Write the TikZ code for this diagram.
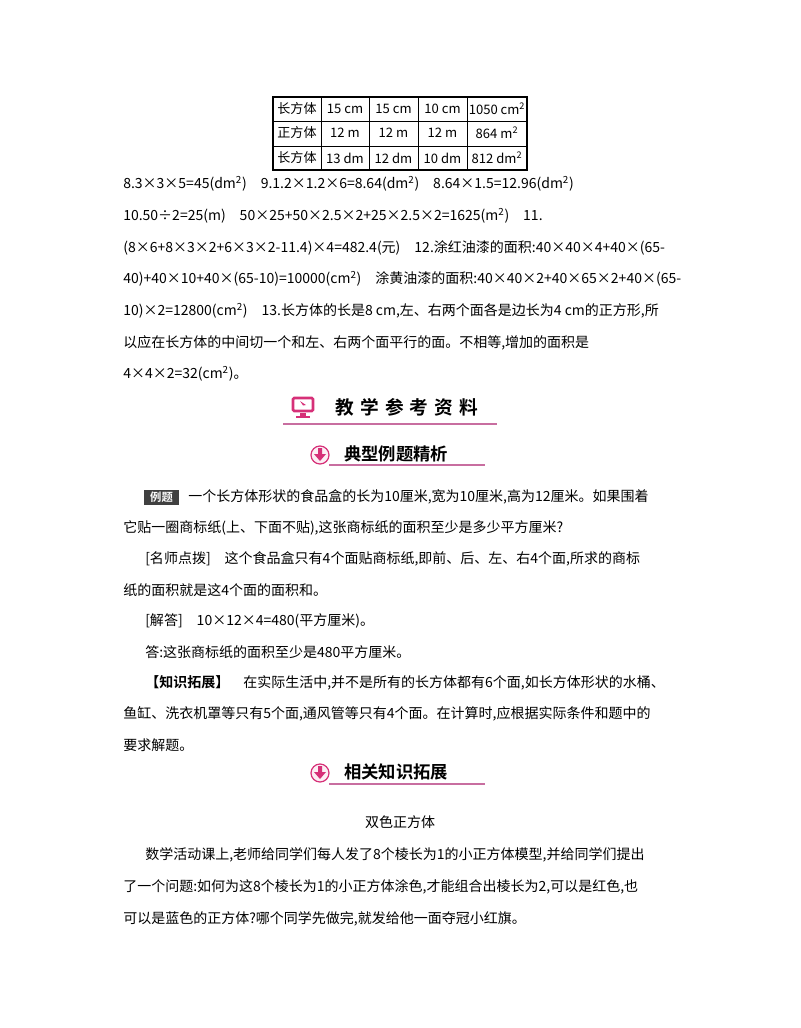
\documentclass[tikz,border=0pt]{standalone}
\usepackage{fontspec}
\setmainfont{Noto Sans CJK SC}
\newfontfamily\headfont{Noto Sans CJK SC Bold}
\usetikzlibrary{calc}
\definecolor{rosa}{RGB}{214,48,120}
\definecolor{rosaline}{RGB}{200,110,160}
\newcommand{\sq}{\textsuperscript{2}}
\tikzset{
  ln/.style={anchor=west, inner sep=0pt, font=\fontsize{10.5}{12}\selectfont},
  cell/.style={inner sep=0pt, font=\fontsize{9.8}{12}\selectfont},
  headline/.style={rosaline, line width=0.9pt},
}
\begin{document}
\begin{tikzpicture}[x=0.75pt, y=-0.75pt]
	\useasboundingbox (0,0) rectangle (800,1028);

	% tabelle
	\draw [line width=1pt] (273,97) rectangle (527,170);
	\foreach \xc in {321,369,418,467} \draw (\xc,97) -- (\xc,170);
	\foreach \yc in {121,146} \draw (273,\yc) -- (527,\yc);
	\foreach \yc/\a/\b/\c/\d/\e [count=\r] in {109/长方体/15 cm/15 cm/10 cm/1050 cm\sq,
	   133/正方体/12 m/12 m/12 m/864 m\sq, 158/长方体/13 dm/12 dm/10 dm/812 dm\sq} {
		\node [cell] (t\r a) at (297,\yc) {\a};
		\node [cell] (t\r b) at (345,\yc) {\b};
		\node [cell] (t\r c) at (393.5,\yc) {\c};
		\node [cell] (t\r d) at (442.5,\yc) {\d};
		\node [cell] (t\r e) at (497,\yc) {\e};
	}

	% answers
	\node [ln] (l1) at (123,184) {8.3×3×5=45(dm\sq)\quad 9.1.2×1.2×6=8.64(dm\sq)\quad 8.64×1.5=12.96(dm\sq)};
	\node [ln] (l2) at (123,216) {10.50÷2=25(m)\quad 50×25+50×2.5×2+25×2.5×2=1625(m\sq)\quad 11.};
	\node [ln] (l3) at (123,248) {(8×6+8×3×2+6×3×2-11.4)×4=482.4(元)\quad 12.涂红油漆的面积:40×40×4+40×(65-};
	\node [ln] (l4) at (123,279) {40)+40×10+40×(65-10)=10000(cm\sq)\quad 涂黄油漆的面积:40×40×2+40×65×2+40×(65-};
	\node [ln] (l5) at (123,311) {10)×2=12800(cm\sq)\quad 13.长方体的长是8 cm,左、右两个面各是边长为4 cm的正方形,所};
	\node [ln] (l6) at (123,343) {以应在长方体的中间切一个和左、右两个面平行的面。不相等,增加的面积是};
	\node [ln] (l7) at (123,374) {4×4×2=32(cm\sq)。};

	% header 1
	\draw [rosa, line width=2pt, rounded corners=1pt] (293,398) rectangle (313,411);
	\fill [rosa] (300,413) rectangle (306,416);
	\draw [rosa, line width=1.5pt] (296,417) -- (310,417);
	\fill [rosa] (300,401) -- (306,405) -- (303,405.5) -- cycle;
	\node [ln, font=\headfont\fontsize{14}{16}\selectfont] (h1) at (335,407) {教\,\,学\,\,参\,\,考\,\,资\,\,料};
	\draw [headline] (283,424) -- (497,424);

	% header 2
	\draw [rosa, line width=0.9pt, fill=rosa!8] (320,455) circle (9);
	\fill [rosa] (318,448) rectangle (322,454) (314,454) -- (326,454) -- (320,461) -- cycle;
	\node [ln, font=\headfont\fontsize{13}{15}\selectfont] (h2) at (344,454) {典型例题精析};
	\draw [headline] (329,465) -- (485,465);

	% example
	\fill [black!75] (144,490) rectangle (179,505);
	\node [cell, white, font=\headfont\fontsize{8.5}{10}\selectfont] (lt) at (161.5,497.5) {例题};
	\node [ln] (e1) at (188,497) {一个长方体形状的食品盒的长为10厘米,宽为10厘米,高为12厘米。如果围着};
	\node [ln] (e2) at (123,528) {它贴一圈商标纸(上、下面不贴),这张商标纸的面积至少是多少平方厘米?};
	\node [ln] (e3) at (145,559) {[名师点拨]\quad 这个食品盒只有4个面贴商标纸,即前、后、左、右4个面,所求的商标};
	\node [ln] (e4) at (123,590) {纸的面积就是这4个面的面积和。};
	\node [ln] (e5) at (145,621) {[解答]\quad 10×12×4=480(平方厘米)。};
	\node [ln] (e6) at (145,652) {答:这张商标纸的面积至少是480平方厘米。};
	\node [ln] (e7) at (145,683) {{\headfont 【知识拓展】}\quad 在实际生活中,并不是所有的长方体都有6个面,如长方体形状的水桶、};
	\node [ln] (e8) at (123,714) {鱼缸、洗衣机罩等只有5个面,通风管等只有4个面。在计算时,应根据实际条件和题中的};
	\node [ln] (e9) at (123,745) {要求解题。};

	% header 3
	\draw [rosa, line width=0.9pt, fill=rosa!8] (320,773) circle (9);
	\fill [rosa] (318,766) rectangle (322,772) (314,772) -- (326,772) -- (320,779) -- cycle;
	\node [ln, font=\headfont\fontsize{13}{15}\selectfont] (h3) at (344,772) {相关知识拓展};
	\draw [headline] (329,784) -- (485,784);

	\node [cell, font=\fontsize{10.5}{12}\selectfont] (tt) at (400,822) {双色正方体};
	\node [ln] (p1) at (145,855) {数学活动课上,老师给同学们每人发了8个棱长为1的小正方体模型,并给同学们提出};
	\node [ln] (p2) at (123,887) {了一个问题:如何为这8个棱长为1的小正方体涂色,才能组合出棱长为2,可以是红色,也};
	\node [ln] (p3) at (123,919) {可以是蓝色的正方体?哪个同学先做完,就发给他一面夺冠小红旗。};
\end{tikzpicture}
\end{document}
